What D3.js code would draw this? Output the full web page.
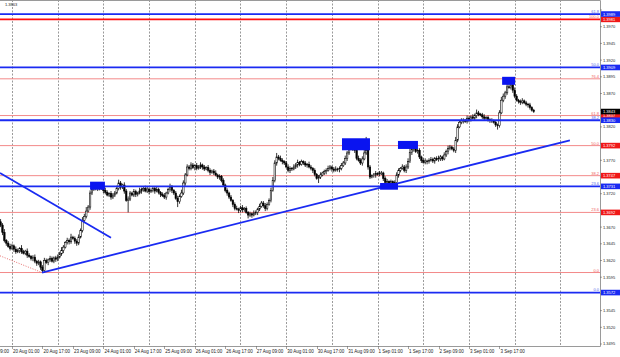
<!DOCTYPE html>
<html lang="en">
<head>
<meta charset="utf-8">
<title>H1 chart</title>
<script src="https://d3js.org/d3.v7.min.js"></script>
<style>
  body { margin: 0; background: #fff; }
  text { font-family: "Liberation Sans", Arial, sans-serif; }
</style>
</head>
<body>
<script>
// price data, hourly bars, closes in pips above 1.3600 (first bar = index -6)
var pipBase = 1.3600, pip = 0.0001, firstBar = -6, firstOpen = 78;
var closePips = [
  73,62,50,46,41,38,42,37,33,35,38,33,31,34,28,26,23,25,19,16,
  18,10,5,20,17,21,23,19,24,22,25,30,35,40,47,50,48,55,53,49,
  46,55,65,80,86,94,100,121,126,130,128,133,128,131,125,122,118,120,115,118,
  121,128,136,130,133,124,110,112,121,118,123,119,121,124,126,128,124,127,123,125,
  128,124,126,122,119,117,115,121,126,130,125,121,113,108,116,121,136,148,160,158,
  163,159,162,158,160,163,160,157,159,155,152,154,151,148,145,146,140,133,125,121,
  115,110,104,98,97,95,99,96,98,92,88,90,88,91,92,97,101,106,102,98,
  104,110,125,140,166,175,173,170,168,166,160,155,158,157,160,163,167,164,168,166,
  163,164,160,158,155,149,143,145,148,151,153,155,158,160,157,155,157,156,158,162,
  166,173,181,190,187,188,185,173,170,166,172,181,185,160,145,147,148,150,149,151,
  151,143,137,138,136,138,136,137,148,155,158,160,155,160,168,182,186,188,183,185,
  175,170,167,169,168,170,171,169,173,171,173,175,172,178,183,188,190,187,185,200,
  220,227,229,230,228,233,231,235,233,237,241,239,238,235,233,234,231,230,229,227,
  223,222,241,260,266,271,280,279,283,275,266,260,258,257,259,256,254,253,249,245,
  243];
var wickUp = [
  4,3,5,2,3,4,3,2,4,3,2,5,3,2,4,3,2,3,4,2,
  3,2,3,4,3,2,4,3,2,3,4,3,5,3,2,4,3,5,2,3,
  3,4,3,5,4,6,3,4,5,3,6,4,3,5,2,4,3,2,4,3,
  3,4,5,3,2,4,3,4,3,2,4,3,2,5,3,2,4,3,2,3,
  3,2,4,3,2,3,4,2,3,5,3,2,3,4,3,5,4,3,4,3,
  4,3,2,4,3,4,2,3,2,4,3,2,3,4,2,3,2,3,2,3,
  2,3,2,3,4,2,3,4,2,3,2,3,2,4,3,2,4,3,3,4,
  3,3,4,5,4,6,3,4,3,2,3,4,3,2,4,3,4,2,3,2,
  3,2,4,3,2,3,2,3,4,2,3,3,4,3,2,3,4,2,3,4,
  3,4,3,5,4,3,4,2,4,3,4,5,20,4,3,2,3,4,2,3,
  3,2,3,4,2,3,2,3,4,3,2,4,3,4,5,11,4,3,4,3,
  3,2,3,4,2,3,4,3,2,3,4,3,2,4,3,4,3,2,3,5,
  4,3,4,3,2,4,3,2,4,3,5,3,2,3,4,2,3,2,3,2,
  3,2,4,5,4,3,5,4,11,3,4,3,2,3,4,2,3,2,3,2,
  2];
var wickDown = [
  3,4,3,4,2,3,2,4,3,2,4,3,2,3,4,2,3,4,3,4,
  3,4,3,3,2,4,3,2,3,4,3,2,3,4,2,3,4,3,2,4,
  4,3,2,3,4,3,2,4,3,2,3,4,3,2,4,3,2,3,4,3,
  3,2,3,4,3,4,2,18,3,2,3,4,3,2,4,3,2,3,4,2,
  3,4,2,3,4,2,3,4,2,3,4,3,2,8,3,2,3,4,2,3,
  3,2,4,3,2,3,4,3,2,3,4,2,3,2,3,4,3,2,3,4,
  3,2,4,3,2,4,3,4,3,2,5,3,4,2,3,4,3,2,3,4,
  3,2,3,2,3,4,3,2,4,3,2,3,4,3,2,3,4,3,2,3,
  3,4,2,3,4,3,2,7,3,2,3,4,2,3,4,3,2,3,4,3,
  2,3,4,3,2,3,4,3,2,3,4,2,3,4,3,2,3,4,2,3,
  3,4,3,2,3,4,3,2,3,4,3,2,3,4,3,2,4,3,2,3,
  3,4,2,3,4,3,2,3,4,2,3,4,3,2,3,4,3,2,3,4,
  3,2,3,4,2,3,4,3,2,3,4,3,2,3,4,2,3,4,3,2,
  3,6,3,2,3,4,3,2,3,4,3,2,3,4,3,2,3,4,3,2,
  2];

// time axis (bar index of each label) and day grid
var timeLabels = ["19 Aug 09:00","20 Aug 01:00","20 Aug 17:00","23 Aug 09:00","24 Aug 01:00","24 Aug 17:00",
  "25 Aug 09:00","26 Aug 01:00","26 Aug 17:00","27 Aug 09:00","30 Aug 01:00","30 Aug 17:00",
  "31 Aug 09:00","1 Sep 01:00","1 Sep 17:00","2 Sep 09:00","3 Sep 01:00","3 Sep 17:00"];
var timeBars = [-16,0,16,32,48,64,80,96,112,128,144,160,176,192,208,224,240,256];
var gridBars = [0,24,48,72,96,120,144,168,192,216,240,264,288];

// price axis
var priceTicks = ["1.3495","1.3520","1.3545","1.3570","1.3595","1.3620","1.3645","1.3670","1.3695","1.3720",
  "1.3745","1.3770","1.3795","1.3820","1.3845","1.3870","1.3895","1.3920","1.3945","1.3970","1.3995"];

// fibo levels [label, price]
var redLevels = [["0.0",1.3602],["23.6",1.3692],["38.2",1.3747],["50.0",1.3792],["61.8",1.3837],["76.4",1.3892],["100.0",1.3981]];
var redTagged = [1.3692,1.3747,1.3792,1.3837,1.3981];
var blueLevels = [["0.0",1.3572],["23.6",1.3731],["38.2",1.3830],["50.0",1.3909],["61.8",1.3989]];
var lastPrice = 1.3843;

// trend lines [bar, price]
var fallLine = [[-6.3,1.3751],[52,1.3654]];
var riseLine = [[15.75,1.3602],[293,1.3800]];
var fiboDotted = [[-6.3,1.3627],[15.75,1.3602]];
// marked zones [bar from, bar to, price low, price high]
var zones = [[41,48.8,1.3726,1.3738],[173.3,188,1.3785,1.3803],[202.7,213.2,1.3787,1.3799],
  [193.3,202.7,1.3726,1.3736],[257.4,264.2,1.3883,1.3895]];

var W = 620, H = 357, plotR = 600, plotB = 346;
var svg = d3.select("body").append("svg").attr("width", W).attr("height", H);

var x = d3.scaleLinear().domain([-6.3, 308.8]).range([0, plotR]);
var y = d3.scaleLinear().domain([1.3492, 1.4010]).range([plotB, 0]);

var bars = closePips.map(function(c, k) {
  var o = k == 0 ? firstOpen : closePips[k - 1];
  return {i: firstBar + k, o: pipBase + o * pip, c: pipBase + c * pip,
    h: pipBase + (Math.max(o, c) + wickUp[k]) * pip,
    l: pipBase + (Math.min(o, c) - wickDown[k]) * pip};
});

var tagged = redTagged.concat(blueLevels.map(function(d) { return d[1]; }), [lastPrice]);

var plot = svg.append("g");
plot.append("clipPath").attr("id", "clip").append("rect").attr("width", plotR).attr("height", plotB);
var g = plot.append("g").attr("clip-path", "url(#clip)");

//day grid
g.selectAll("line.grid").data(gridBars).enter().append("line")
  .attr("x1", function(d) { return Math.round(x(d)) + 0.5; })
  .attr("x2", function(d) { return Math.round(x(d)) + 0.5; })
  .attr("y1", 0).attr("y2", plotB)
  .attr("stroke", "#808080").attr("stroke-width", 0.8).attr("stroke-dasharray", "2,1.5");

//red fibo
g.selectAll("line.red").data(redLevels).enter().append("line")
  .attr("x1", 0).attr("x2", plotR)
  .attr("y1", function(d) { return y(d[1]); }).attr("y2", function(d) { return y(d[1]); })
  .attr("stroke", function(d) { return d[0] == "100.0" ? "#ff1010" : "#f38a8a"; })
  .attr("stroke-width", function(d) { return d[0] == "100.0" ? 1.6 : 1; });

var line = d3.line().x(function(d) { return x(d[0]); }).y(function(d) { return y(d[1]); });
g.append("path").attr("d", line(fiboDotted)).attr("fill", "none")
  .attr("stroke", "#e87070").attr("stroke-width", 1).attr("stroke-dasharray", "1,1.5");

//candles
var cw = 1.5;
g.selectAll("line.wick").data(bars).enter().append("line")
  .attr("x1", function(d) { return x(d.i); }).attr("x2", function(d) { return x(d.i); })
  .attr("y1", function(d) { return y(d.h); }).attr("y2", function(d) { return y(d.l); })
  .attr("stroke", "#000").attr("stroke-width", 0.8);
g.selectAll("rect.body").data(bars).enter().append("rect")
  .attr("x", function(d) { return x(d.i) - cw / 2; })
  .attr("width", cw)
  .attr("y", function(d) { return y(Math.max(d.o, d.c)); })
  .attr("height", function(d) { return Math.max(0.7, Math.abs(y(d.o) - y(d.c))); })
  .attr("fill", function(d) { return d.c >= d.o ? "#fff" : "#000"; })
  .attr("stroke", "#000").attr("stroke-width", 0.55);

//blue levels and trend lines
g.selectAll("line.blue").data(blueLevels).enter().append("line")
  .attr("x1", 0).attr("x2", plotR)
  .attr("y1", function(d) { return y(d[1]); }).attr("y2", function(d) { return y(d[1]); })
  .attr("stroke", "#1a2bf2").attr("stroke-width", 1.8);
[fallLine, riseLine].forEach(function(t) {
  g.append("path").attr("d", line(t)).attr("fill", "none")
    .attr("stroke", "#1a2bf2").attr("stroke-width", 1.8);
});

//zones
g.selectAll("rect.zone").data(zones).enter().append("rect")
  .attr("x", function(d) { return x(d[0]); })
  .attr("width", function(d) { return x(d[1]) - x(d[0]); })
  .attr("y", function(d) { return y(d[3]); })
  .attr("height", function(d) { return y(d[2]) - y(d[3]); })
  .attr("fill", "#0a14f0");

//frame
svg.append("path").attr("d", "M0,0.5H" + (plotR + 0.5) + "V" + (plotB + 0.5) + "H0")
  .attr("fill", "none").attr("stroke", "#9a9a9a").attr("stroke-width", 1);

//time axis
var tx = svg.append("g");
tx.selectAll("line").data(timeBars).enter().append("line")
  .attr("x1", function(d) { return Math.round(x(d)) + 0.5; })
  .attr("x2", function(d) { return Math.round(x(d)) + 0.5; })
  .attr("y1", plotB).attr("y2", plotB + 3).attr("stroke", "#666").attr("stroke-width", 0.6);
tx.selectAll("text").data(timeBars).enter().append("text")
  .attr("x", function(d) { return x(d) + 1; }).attr("y", plotB + 6.5)
  .attr("font-size", 4.5).attr("fill", "#222")
  .text(function(d, k) { return timeLabels[k]; });

//price axis (labels under a price tag stay hidden)
var ty = svg.append("g");
ty.selectAll("line").data(priceTicks).enter().append("line")
  .attr("x1", plotR).attr("x2", plotR + 2)
  .attr("y1", function(d) { return y(+d); }).attr("y2", function(d) { return y(+d); })
  .attr("stroke", "#666").attr("stroke-width", 0.6);
ty.selectAll("text")
  .data(priceTicks.filter(function(d) {
    return !tagged.some(function(p) { return Math.abs(y(p) - y(+d)) < 5; });
  }))
  .enter().append("text")
  .attr("x", plotR + 3).attr("y", function(d) { return y(+d) + 1.5; })
  .attr("font-size", 4).attr("fill", "#222")
  .text(function(d) { return d; });

//fibo level names
svg.selectAll("text.rl").data(redLevels).enter().append("text")
  .attr("x", plotR - 1).attr("y", function(d) { return y(d[1]) - 1; })
  .attr("text-anchor", "end").attr("font-size", 4).attr("fill", "#f06060")
  .text(function(d) { return d[0]; });
svg.selectAll("text.bl").data(blueLevels).enter().append("text")
  .attr("x", plotR - 1).attr("y", function(d) { return y(d[1]) - 1.2; })
  .attr("text-anchor", "end").attr("font-size", 4).attr("fill", "#5560e8")
  .text(function(d) { return d[0]; });

//price tags
function tag(p, col) {
  svg.append("rect").attr("x", plotR + 1).attr("y", y(p) - 2.8)
    .attr("width", W - plotR - 1).attr("height", 5.6).attr("fill", col);
  svg.append("text").attr("x", plotR + 3).attr("y", y(p) + 1.5)
    .attr("font-size", 4).attr("fill", "#fff").text(p.toFixed(4));
}
redTagged.forEach(function(p) { tag(p, "#f01818"); });
blueLevels.forEach(function(d) { tag(d[1], "#1a2bf2"); });
tag(lastPrice, "#000");

svg.append("text").attr("x", 5).attr("y", 6).attr("font-size", 4).attr("fill", "#222").text("1.3863");
</script>
</body>
</html>
